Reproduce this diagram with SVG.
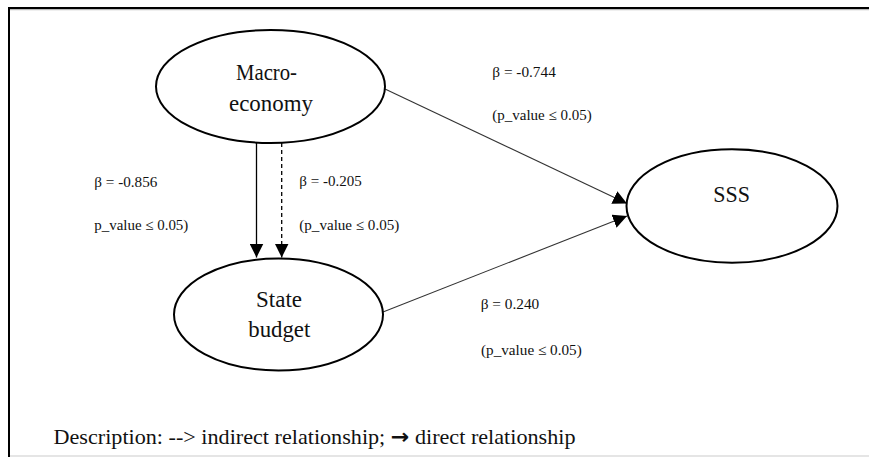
<svg xmlns="http://www.w3.org/2000/svg" width="869" height="457" viewBox="0 0 869 457">
<style>
.node{fill:#fff;stroke:#000;stroke-width:2}
.nt{font-family:'Liberation Serif','Times New Roman',Times,serif;font-size:24px;fill:#111}
.lb{font-family:'Liberation Serif','Times New Roman',Times,serif;font-size:15px;fill:#111}
.ds{font-family:'Liberation Serif','Times New Roman',Times,serif;font-size:21px;fill:#111}
.edge{stroke:#000;stroke-width:1.3;fill:none}
.diag{stroke:#333;stroke-width:1.1;fill:none}
</style>
<defs>
<marker id="ah" markerUnits="userSpaceOnUse" markerWidth="14" markerHeight="14" viewBox="0 0 14 14" refX="14" refY="7" orient="auto">
<path d="M0,0 L14,7 L0,14 Z" fill="#000"/>
</marker>
</defs>
<rect width="869" height="457" fill="#fff"/>
<g id="frame">
<line x1="8" y1="8" x2="869" y2="8" stroke="#000" stroke-width="2"/>
<line x1="10" y1="9.7" x2="869" y2="9.7" stroke="#aaa" stroke-width="1"/>
<line x1="9" y1="7" x2="9" y2="457" stroke="#000" stroke-width="2"/>
<line x1="10" y1="456" x2="869" y2="456" stroke="#ccc" stroke-width="1.2"/>
</g>
<g id="connectors">
<line class="edge" x1="256.5" y1="143" x2="256.5" y2="257.5" marker-end="url(#ah)"/>
<line class="edge" x1="281.7" y1="143" x2="281.7" y2="257.5" stroke-dasharray="4,3" marker-end="url(#ah)"/>
<line class="diag" x1="385" y1="89" x2="627" y2="203.5" marker-end="url(#ah)"/>
<line class="diag" x1="383" y1="312" x2="627" y2="216" marker-end="url(#ah)"/>
</g>
<g id="macroeconomy">
<ellipse class="node" cx="270.5" cy="86.5" rx="114.5" ry="56.5"/>
<text class="nt" x="236" y="80" textLength="61" lengthAdjust="spacingAndGlyphs">Macro-</text>
<text class="nt" x="229" y="110.5" textLength="84" lengthAdjust="spacingAndGlyphs">economy</text>
</g>
<g id="state-budget">
<ellipse class="node" cx="278.5" cy="314.5" rx="104.5" ry="56"/>
<text class="nt" x="256" y="306.5" textLength="46" lengthAdjust="spacingAndGlyphs">State</text>
<text class="nt" x="248.3" y="336.5" textLength="62" lengthAdjust="spacingAndGlyphs">budget</text>
</g>
<g id="sss">
<ellipse class="node" cx="732" cy="206" rx="105.5" ry="56.7"/>
<text class="nt" x="713.3" y="201.5" textLength="36.7" lengthAdjust="spacingAndGlyphs">SSS</text>
</g>
<g id="labels">
<text class="lb" x="492.3" y="76.7" textLength="63.5" lengthAdjust="spacingAndGlyphs">β = -0.744</text>
<text class="lb" x="492.3" y="120" textLength="99.4" lengthAdjust="spacingAndGlyphs">(p_value ≤ 0.05)</text>
<text class="lb" x="480.7" y="309" textLength="58.6" lengthAdjust="spacingAndGlyphs">β = 0.240</text>
<text class="lb" x="481" y="355" textLength="100.7" lengthAdjust="spacingAndGlyphs">(p_value ≤ 0.05)</text>
<text class="lb" x="94.3" y="186.7" textLength="63" lengthAdjust="spacingAndGlyphs">β = -0.856</text>
<text class="lb" x="94.3" y="230" textLength="94" lengthAdjust="spacingAndGlyphs">p_value ≤ 0.05)</text>
<text class="lb" x="299.3" y="186.3" textLength="62.4" lengthAdjust="spacingAndGlyphs">β = -0.205</text>
<text class="lb" x="299.3" y="230" textLength="100" lengthAdjust="spacingAndGlyphs">(p_value ≤ 0.05)</text>
</g>
<g id="description">
<text class="ds" x="53.5" y="444" textLength="522" lengthAdjust="spacingAndGlyphs">Description: --&gt; indirect relationship; <tspan font-weight="bold" font-family="DejaVu Sans, sans-serif">→</tspan> direct relationship</text>
</g>
</svg>
